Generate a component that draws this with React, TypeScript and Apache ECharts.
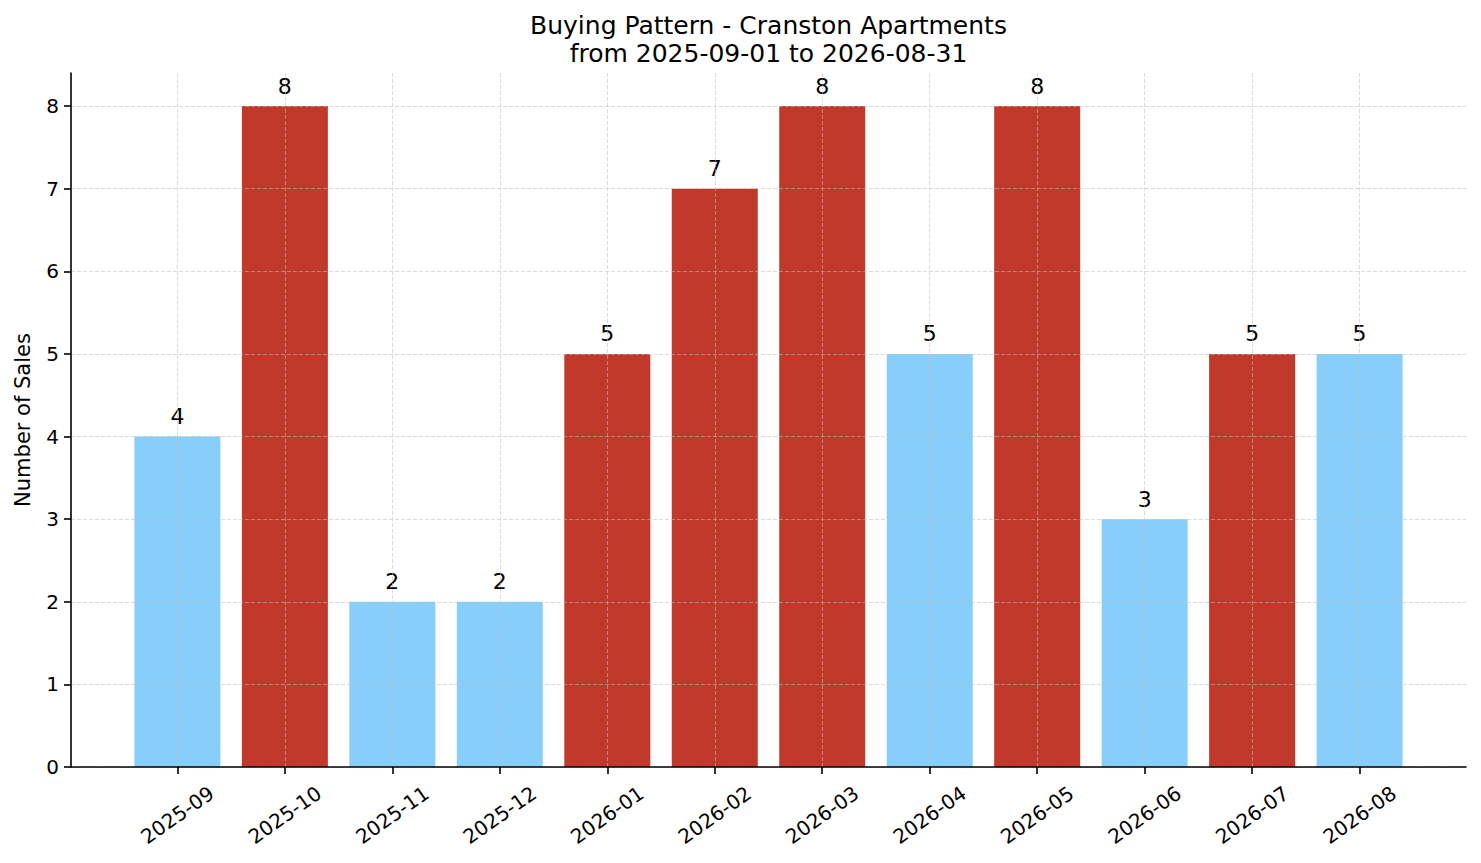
import { useEffect, useRef } from "react";
import * as echarts from "echarts";

const months = [
  "2025-09", "2025-10", "2025-11", "2025-12", "2026-01", "2026-02",
  "2026-03", "2026-04", "2026-05", "2026-06", "2026-07", "2026-08",
];
const sales = [4, 8, 2, 2, 5, 7, 8, 5, 8, 3, 5, 5];
const highlighted = [false, true, false, false, true, true, true, false, true, false, true, false];
const yTicks = [0, 1, 2, 3, 4, 5, 6, 7, 8];

const titleLines = ["Buying Pattern - Cranston Apartments", "from 2025-09-01 to 2026-08-31"];

const FONT = "DejaVu Sans";
const RED = "#C0392B";
const BLUE = "#87CEFA";
const GRID_COLOR = "rgba(190,190,190,0.7)";
const AXIS_COLOR = "#000000";

export default function App() {
  const chartEl = useRef<HTMLDivElement>(null);

  useEffect(() => {
    const el = chartEl.current;
    if (!el) return;
    const chart = echarts.init(el, null, { renderer: "svg" });

    const xIdx = months.map((_, i) => i);
    const gridLine = { show: true, lineStyle: { color: GRID_COLOR, type: [4, 2], width: 0.8 } };

    chart.setOption({
      animation: false,
      backgroundColor: "#ffffff",
      textStyle: { fontFamily: FONT },
      grid: { left: 71, right: 15, top: 73, bottom: 96, containLabel: false, outerBoundsMode: "none" },
      graphic: [
        {
          type: "text",
          x: 768.5,
          y: 11,
          style: {
            text: titleLines.join("\n"),
            fill: "#000",
            font: `25px "${FONT}"`,
            textAlign: "center",
            textVerticalAlign: "top",
            lineHeight: 28,
          },
        },
      ],
      xAxis: {
        type: "value",
        min: -0.99,
        max: 11.99,
        z: 5,
        axisLine: { show: true, onZero: false, lineStyle: { color: AXIS_COLOR, width: 1.6 } },
        axisTick: { show: true, customValues: xIdx, length: 7, lineStyle: { color: AXIS_COLOR, width: 1.6 } },
        axisLabel: {
          customValues: xIdx,
          formatter: (v: number) => months[Math.round(v)] ?? "",
          rotate: 35,
          align: "center",
          verticalAlign: "middle",
          margin: 48,
          fontSize: 20,
          color: "#000",
          fontFamily: FONT,
        },
        splitLine: gridLine,
      },
      yAxis: {
        type: "value",
        min: 0,
        max: 8.4,
        z: 5,
        name: "Number of Sales",
        nameLocation: "middle",
        nameGap: 38,
        nameTextStyle: { fontSize: 21, color: "#000", fontFamily: FONT },
        axisLine: { show: true, onZero: false, lineStyle: { color: AXIS_COLOR, width: 1.6 } },
        axisTick: { show: true, customValues: yTicks, length: 7, lineStyle: { color: AXIS_COLOR, width: 1.6 } },
        axisLabel: {
          customValues: yTicks,
          margin: 12,
          fontSize: 20,
          color: "#000",
          fontFamily: FONT,
        },
        splitLine: gridLine,
      },
      series: [
        {
          type: "bar",
          barWidth: 86,
          data: sales.map((v, i) => ({
            value: [i, v],
            itemStyle: { color: highlighted[i] ? RED : BLUE },
          })),
          label: {
            show: true,
            position: "top",
            distance: 9,
            fontSize: 22,
            color: "#000",
            fontFamily: FONT,
            formatter: (p: any) => String(p.value[1]),
          },
        },
      ],
    });

    return () => chart.dispose();
  }, []);

  return (
    <div
      ref={chartEl}
      style={{ position: "fixed", left: 0, top: 0, width: 1481, height: 863, background: "#fff" }}
    />
  );
}
